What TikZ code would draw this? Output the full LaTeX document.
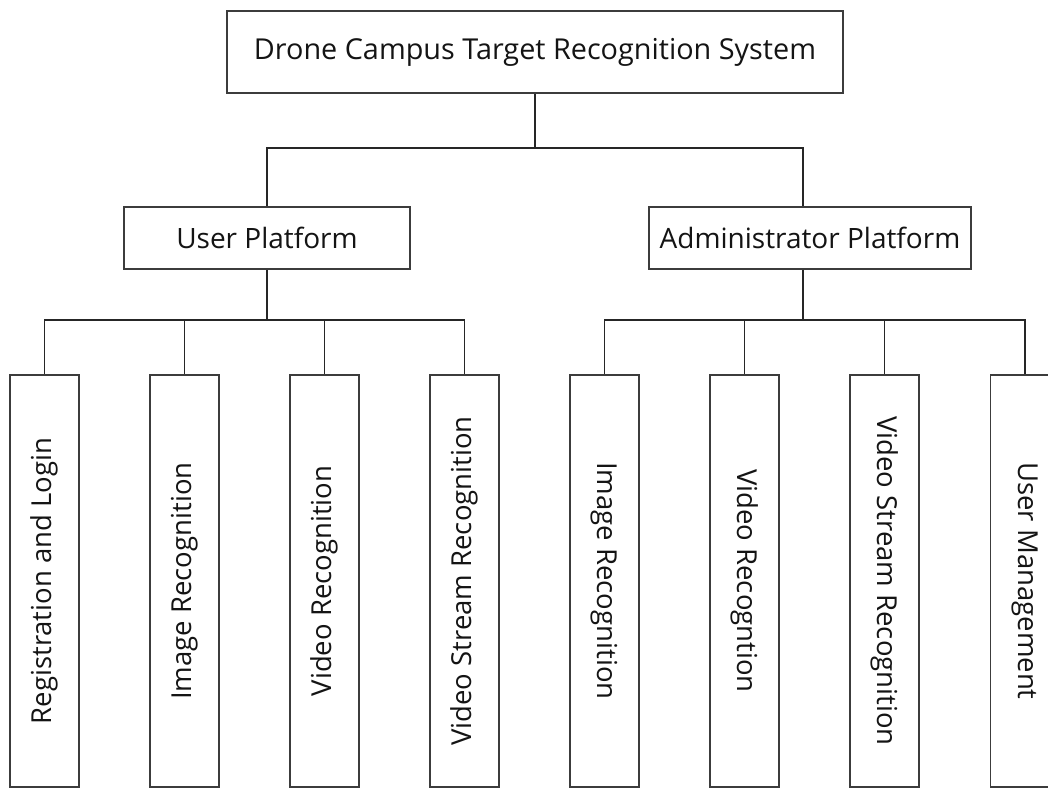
\documentclass[tikz,border=0pt]{standalone}
\usepackage{fontspec}
\setmainfont{Open Sans}
\definecolor{edgegray}{HTML}{3C3C3C}
\definecolor{wiregray}{HTML}{262626}
\definecolor{inkgray}{HTML}{141414}
\begin{document}
\begin{tikzpicture}[x=1pt,y=-1pt,
  box/.style={draw=edgegray, line width=1.8pt, fill=white, inner sep=0pt,
    text=inkgray, font=\fontsize{28}{32}\selectfont},
  leafbox/.style={draw=edgegray, line width=1.8pt, fill=white, inner sep=0pt,
    minimum width=69pt, minimum height=412pt},
  leaftext/.style={text=inkgray, font=\fontsize{27.5}{32}\selectfont, inner sep=0pt},
  conn/.style={draw=wiregray, line width=1.6pt}]
\useasboundingbox (0,0) rectangle (1048,787);
\clip (0,0) rectangle (1048,787);
\fill[white] (0,0) rectangle (1048,787);

% root and platforms
\node[box, minimum width=616pt, minimum height=82pt,
      font=\fontsize{28.8}{32}\selectfont] (root) at (535,52)
  {Drone Campus Target Recognition System};
\node[box, minimum width=286pt, minimum height=62pt] (user) at (267,238)
  {User Platform};
\node[box, minimum width=322pt, minimum height=62pt] (admin) at (810,238)
  {Administrator Platform};

% leaf modules
\foreach \n/\cx in {u1/44.5, u2/184.5, u3/324.5, u4/464.5,
                    a1/604.5, a2/744.5, a3/884.5, a4/1025}
  \node[leafbox] (\n) at (\cx,581) {};

\node[leaftext, rotate=90] (u1t) at (u1) {Registration and Login};
\node[leaftext, rotate=90] (u2t) at (u2) {Image Recognition};
\node[leaftext, rotate=90] (u3t) at (u3) {Video Recognition};
\node[leaftext, rotate=90] (u4t) at (u4) {Video Stream Recognition};
\node[leaftext, rotate=-90] (a1t) at (a1) {Image Recognition};
\node[leaftext, rotate=-90] (a2t) at (a2) {Video Recogntion};
\node[leaftext, rotate=-90] (a3t) at (a3) {Video Stream Recognition};
\node[leaftext, rotate=-90] (a4t) at (a4) {User Management};

% tree connectors (shifts are in page units: negative is downward)
\coordinate (rootbus) at ([yshift=-54pt]root.south);
\coordinate (adminin) at ([xshift=-7pt]admin.north);
\draw[conn] (root.south) -- (rootbus);
\draw[conn] (rootbus) -| (user.north);
\draw[conn] (rootbus) -| (adminin);

\coordinate (userbus) at ([yshift=-50pt]user.south);
\coordinate (adminout) at ([xshift=-7pt]admin.south);
\coordinate (adminbus) at ([yshift=-50pt]adminout);
\draw[conn] (user.south) -- (userbus);
\draw[conn] (adminout) -- (adminbus);
\foreach \n in {u1,u2,u3,u4}
  \draw[conn] (userbus) -| (\n.north);
\foreach \n in {a1,a2,a3,a4}
  \draw[conn] (adminbus) -| (\n.north);
\end{tikzpicture}
\end{document}
